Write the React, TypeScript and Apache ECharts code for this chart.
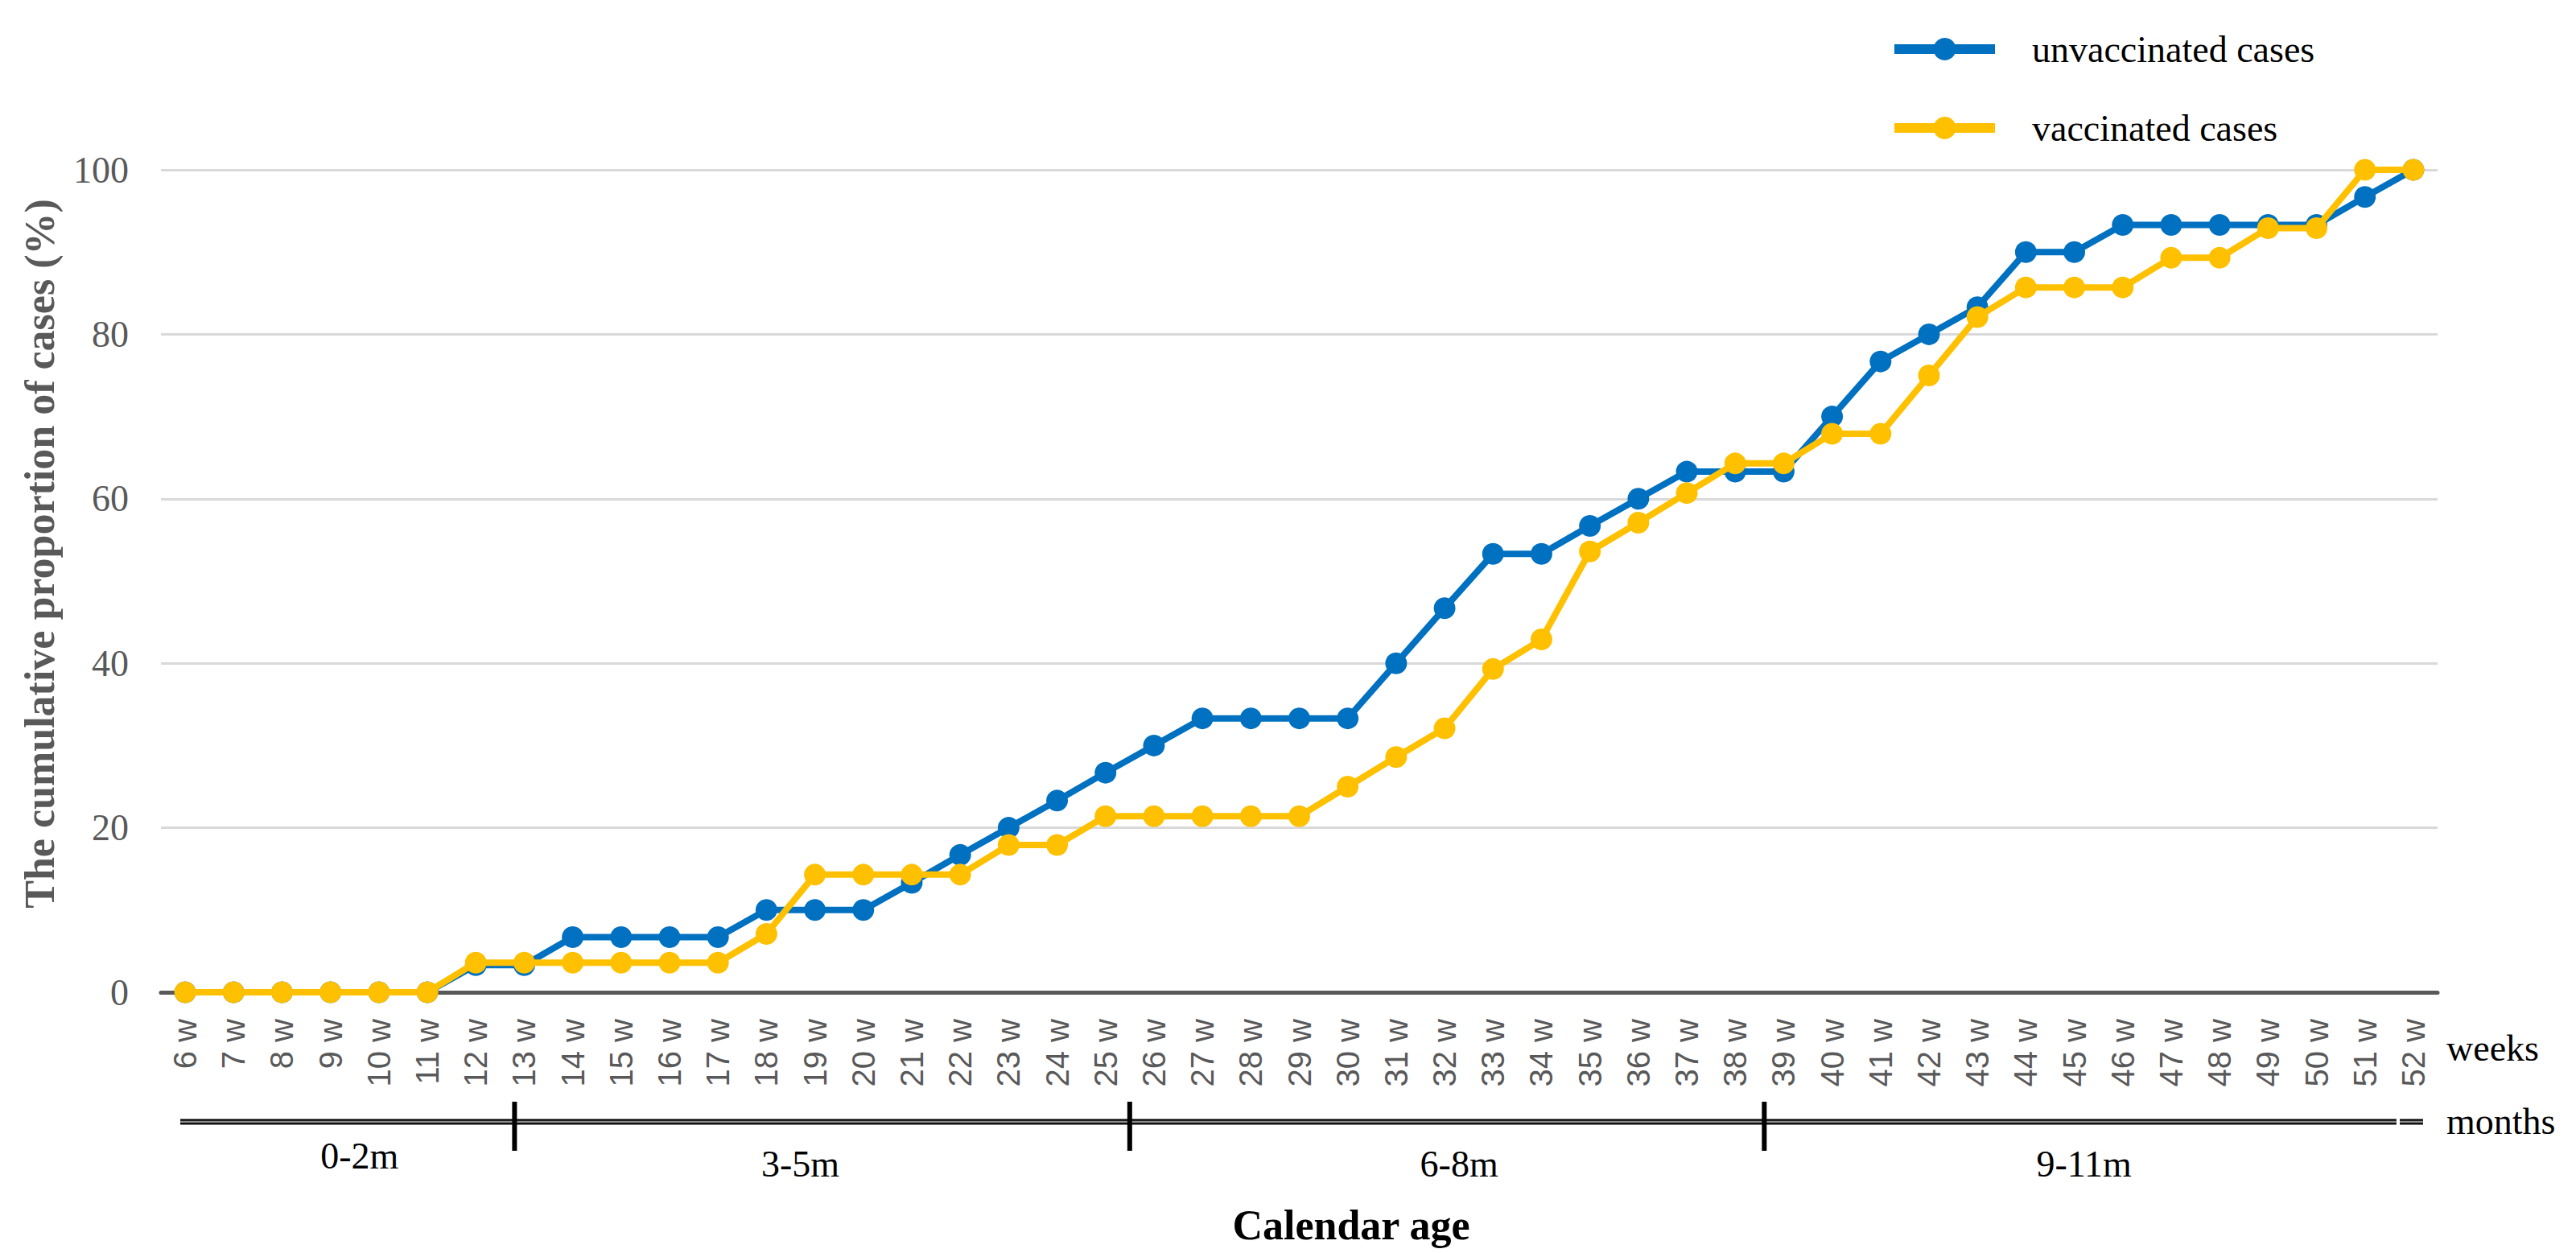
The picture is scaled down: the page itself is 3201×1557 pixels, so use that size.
import React, { useEffect, useRef } from "react";
import * as echarts from "echarts";

const weekLabels = [
  "6 w", "7 w", "8 w", "9 w", "10 w", "11 w", "12 w", "13 w", "14 w", "15 w",
  "16 w", "17 w", "18 w", "19 w", "20 w", "21 w", "22 w", "23 w", "24 w", "25 w",
  "26 w", "27 w", "28 w", "29 w", "30 w", "31 w", "32 w", "33 w", "34 w", "35 w",
  "36 w", "37 w", "38 w", "39 w", "40 w", "41 w", "42 w", "43 w", "44 w", "45 w",
  "46 w", "47 w", "48 w", "49 w", "50 w", "51 w", "52 w",
];

const unvaccinated = [
  0, 0, 0, 0, 0, 0, 3.3, 3.3, 6.7, 6.7,
  6.7, 6.7, 10, 10, 10, 13.3, 16.7, 20, 23.3, 26.7,
  30, 33.3, 33.3, 33.3, 33.3, 40, 46.7, 53.3, 53.3, 56.7,
  60, 63.3, 63.3, 63.3, 70, 76.7, 80, 83.3, 90, 90,
  93.3, 93.3, 93.3, 93.3, 93.3, 96.7, 100,
];

const vaccinated = [
  0, 0, 0, 0, 0, 0, 3.6, 3.6, 3.6, 3.6,
  3.6, 3.6, 7.1, 14.3, 14.3, 14.3, 14.3, 17.9, 17.9, 21.4,
  21.4, 21.4, 21.4, 21.4, 25, 28.6, 32.1, 39.3, 42.9, 53.6,
  57.1, 60.7, 64.3, 64.3, 67.9, 67.9, 75, 82.1, 85.7, 85.7,
  85.7, 89.3, 89.3, 92.9, 92.9, 100, 100,
];

const seriesNames = ["unvaccinated cases", "vaccinated cases"];
const seriesColors = ["#0070C0", "#FFC000"];

// month bands, expressed in weeks
const monthLabels = ["0-2m", "3-5m", "6-8m", "9-11m"];
const monthLabelWeeks = [9.6, 18.7, 32.3, 45.2];
const monthBoundaryWeeks = [12.8, 25.5, 38.6];
const monthAxisStartWeek = 5.9;
const monthAxisBreakWeeks = [51.65, 51.72];
const monthAxisEndWeek = 52.2;
const firstWeek = 6;

const yTicks = { min: 0, max: 100, interval: 20 };

const SERIF = "'Liberation Serif', 'Times New Roman', serif";
const SANS = "'Liberation Sans', Arial, sans-serif";

export default function App() {
  const ref = useRef<HTMLDivElement>(null);

  useEffect(() => {
    if (!ref.current) return;
    const chart = echarts.init(ref.current, undefined, { renderer: "svg" });

    chart.setOption({
      animation: false,
      backgroundColor: "#ffffff",
      grid: { left: 200, right: 172, top: 211, bottom: 324, containLabel: false },
      legend: {
        orient: "vertical",
        left: 2343,
        top: 33,
        itemWidth: 125,
        itemHeight: 35,
        itemGap: 52,
        lineStyle: { width: 12 },
        textStyle: {
          fontFamily: SERIF,
          fontSize: 46,
          color: "#000000",
          padding: [0, 0, 0, 41],
        },
        data: seriesNames,
      },
      xAxis: {
        type: "category",
        data: weekLabels,
        boundaryGap: true,
        axisLine: { show: true, lineStyle: { color: "#595959", width: 5 } },
        axisTick: { show: false },
        axisLabel: {
          interval: 0,
          rotate: 90,
          margin: 33,
          fontFamily: SANS,
          fontSize: 40,
          color: "#595959",
        },
        splitLine: { show: false },
      },
      yAxis: {
        type: "value",
        min: yTicks.min,
        max: yTicks.max,
        interval: yTicks.interval,
        axisLine: { show: false },
        axisTick: { show: false },
        axisLabel: {
          margin: 40,
          fontFamily: SERIF,
          fontSize: 46,
          color: "#595959",
        },
        splitLine: { show: true, lineStyle: { color: "#d9d9d9", width: 3 } },
      },
      series: [
        {
          name: seriesNames[0],
          type: "line",
          data: unvaccinated,
          symbol: "circle",
          symbolSize: 27,
          color: seriesColors[0],
          lineStyle: { width: 8, color: seriesColors[0] },
          itemStyle: { color: seriesColors[0] },
          z: 3,
        },
        {
          name: seriesNames[1],
          type: "line",
          data: vaccinated,
          symbol: "circle",
          symbolSize: 27,
          color: seriesColors[1],
          lineStyle: { width: 8, color: seriesColors[1] },
          itemStyle: { color: seriesColors[1] },
          z: 4,
        },
      ],
    });

    // month axis built from the category axis' own pixel scale
    const p0 = chart.convertToPixel({ xAxisIndex: 0 }, weekLabels[0]) as number;
    const p1 = chart.convertToPixel({ xAxisIndex: 0 }, weekLabels[1]) as number;
    const wx = (w: number) => p0 + (w - firstWeek) * (p1 - p0);
    const monthY = 1394;

    const doubleLine = (a: number, b: number) => [
      {
        type: "line",
        shape: { x1: wx(a), y1: monthY, x2: wx(b), y2: monthY },
        style: { stroke: "#000000", lineWidth: 7 },
        z: 10,
      },
      {
        type: "line",
        shape: { x1: wx(a), y1: monthY, x2: wx(b), y2: monthY },
        style: { stroke: "#8c8c8c", lineWidth: 2.5 },
        z: 11,
      },
    ];

    const graphics: any[] = [
      ...doubleLine(monthAxisStartWeek, monthAxisBreakWeeks[0]),
      ...doubleLine(monthAxisBreakWeeks[1], monthAxisEndWeek),
      ...monthBoundaryWeeks.map((w) => ({
        type: "line",
        shape: { x1: wx(w), y1: 1369, x2: wx(w), y2: 1430 },
        style: { stroke: "#000000", lineWidth: 6 },
        z: 12,
      })),
      ...monthLabels.map((t, i) => ({
        type: "text",
        x: wx(monthLabelWeeks[i]),
        y: i === 0 ? 1436 : 1446,
        style: {
          text: t,
          fontFamily: SERIF,
          fontSize: 46,
          fill: "#000000",
          align: "center",
          verticalAlign: "middle",
        },
        z: 12,
      })),
      {
        type: "text",
        x: 3040,
        y: 1302,
        style: {
          text: "weeks",
          fontFamily: SERIF,
          fontSize: 46,
          fill: "#000000",
          align: "left",
          verticalAlign: "middle",
        },
      },
      {
        type: "text",
        x: 3040,
        y: 1393,
        style: {
          text: "months",
          fontFamily: SERIF,
          fontSize: 46,
          fill: "#000000",
          align: "left",
          verticalAlign: "middle",
        },
      },
      {
        type: "text",
        x: 1679,
        y: 1522,
        style: {
          text: "Calendar age",
          fontFamily: SERIF,
          fontSize: 52,
          fontWeight: "bold",
          fill: "#000000",
          align: "center",
          verticalAlign: "middle",
        },
      },
      {
        type: "text",
        x: 49,
        y: 688,
        rotation: Math.PI / 2,
        style: {
          text: "The cumulative proportion of cases (%)",
          fontFamily: SERIF,
          fontSize: 52,
          fontWeight: "bold",
          fill: "#595959",
          align: "center",
          verticalAlign: "middle",
        },
      },
    ];

    chart.setOption({ graphic: graphics });

    return () => {
      chart.dispose();
    };
  }, []);

  return (
    <div
      ref={ref}
      style={{ position: "fixed", left: 0, top: 0, width: 3201, height: 1557, background: "#fff" }}
    />
  );
}
